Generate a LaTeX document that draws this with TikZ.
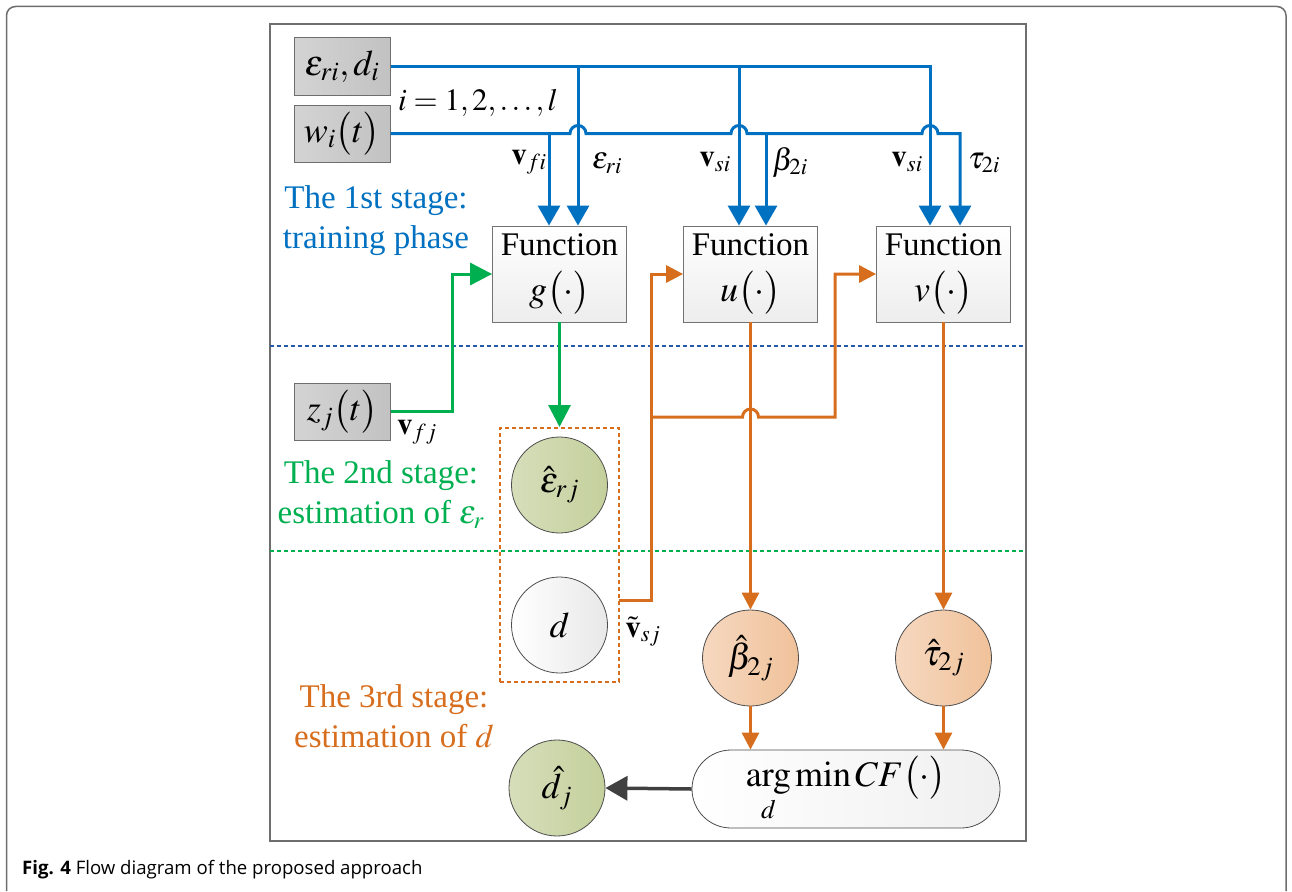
\documentclass[tikz,border=0pt]{standalone}
\usepackage{mathptmx}
\usepackage[no-math]{fontspec}
\setmainfont{Liberation Serif}
\newfontfamily\capfont{Open Sans}
\usetikzlibrary{arrows.meta}
\definecolor{cblue}{RGB}{0,112,192}
\definecolor{cgreen}{RGB}{0,176,80}
\definecolor{corange}{RGB}{215,110,30}
\definecolor{cframe}{RGB}{110,110,110}
\definecolor{cdark}{RGB}{64,64,64}
\definecolor{gfillA}{RGB}{214,222,186}
\definecolor{gfillB}{RGB}{196,208,156}
\definecolor{ofillA}{RGB}{246,216,192}
\definecolor{ofillB}{RGB}{240,194,154}
\definecolor{dashblue}{RGB}{40,90,170}
\newcommand{\bigfont}{\fontsize{33}{40}\selectfont}
\newcommand{\boxfont}{\fontsize{36}{42}\selectfont}
\newcommand{\labfont}{\fontsize{31}{37}\selectfont}
\begin{document}
\begin{tikzpicture}[x=1pt,y=-1pt,
  inbox/.style={draw=cframe,line width=1pt,left color=black!17,right color=black!24,
    minimum width=96pt,minimum height=57pt,inner sep=0pt,font=\boxfont},
  fnbox/.style={draw=black!55,line width=0.8pt,top color=white,bottom color=black!7,
    minimum width=134pt,minimum height=96pt,inner sep=0pt,align=center,font=\bigfont},
  circ/.style={circle,draw=black!70,line width=0.8pt,minimum size=96pt,inner sep=0pt,font=\boxfont},
  gcirc/.style={circ,left color=gfillA,right color=gfillB},
  ocirc/.style={circ,left color=ofillA,right color=ofillB},
  cfbox/.style={draw=black!70,line width=0.8pt,rounded corners=39pt,left color=white,right color=black!6,
    minimum width=308pt,minimum height=78pt,inner sep=0pt,font=\boxfont},
  stage/.style={align=center,font=\bigfont,inner sep=0pt},
  lab/.style={font=\labfont,inner sep=0pt},
  bl/.style={draw=cblue,line width=3pt},
  gr/.style={draw=cgreen,line width=3pt},
  orl/.style={draw=corange,line width=3pt},
  dk/.style={draw=cdark,line width=3.5pt},
  barr/.style={-{Triangle[width=22pt,length=20pt]},cblue},
  garr/.style={-{Triangle[width=22pt,length=22pt]},cgreen},
  oarr/.style={-{Triangle[width=17pt,length=17pt]},corange},
  darr/.style={-{Triangle[width=24pt,length=22pt]},cdark},
]
\useasboundingbox (0,0) rectangle (1292,891);
% frames
\draw[cframe,line width=1.5pt,rounded corners=9pt] (6.5,891) -- (6.5,6.5) -- (1286,6.5) -- (1286,891);
\node[draw=cframe,line width=1.5pt,minimum width=756pt,minimum height=817pt,inner sep=0pt] (frame) at (648,432.5) {};

% dashed stage separators
\coordinate (dl1) at (270,346); \coordinate (dr1) at (1026,346);
\coordinate (dl2) at (270,551); \coordinate (dr2) at (1026,551);
\draw[dashblue,line width=1.5pt,dash pattern=on 4pt off 3pt] (dl1) -- (dr1);
\draw[cgreen,line width=1.5pt,dash pattern=on 4pt off 3pt] (dl2) -- (dr2);

% input boxes
\node[inbox] (ed) at (342,66.5) {$\varepsilon_{ri},d_{i}$};
\node[inbox] (w) at (342,133.5) {$w_{i}\bigl(t\bigr)$};
\node[inbox] (z) at (342.5,411.5) {$z_{j}\bigl(t\bigr)$};

% function boxes
\node[fnbox] (g) at (559.5,274) {Function\\[6pt]{\boxfont$g\bigl(\cdot\bigr)$}};
\node[fnbox] (u) at (750.5,274) {Function\\[6pt]{\boxfont$u\bigl(\cdot\bigr)$}};
\node[fnbox] (v) at (943.5,274) {Function\\[6pt]{\boxfont$v\bigl(\cdot\bigr)$}};

% dashed group box and circles
\node[draw=corange,line width=2pt,dash pattern=on 4pt off 3pt,minimum width=119pt,minimum height=254pt,inner sep=0pt] (dbox) at (559.5,555) {};
\node[gcirc] (eh) at (559.5,485) {$\hat{\varepsilon}_{rj}$};
\node[circ,left color=white,right color=black!9] (dn) at (559.5,625) {$d$};
\node[ocirc] (bh) at (750.5,658) {$\hat{\beta}_{2j}$};
\node[ocirc] (th) at (943.5,658) {$\hat{\tau}_{2j}$};
\node[gcirc] (dh) at (557,788) {$\hat{d}_{j}$};
\node[cfbox] (cf) at (846,789) {\raisebox{-7pt}{$\mathop{\mathrm{arg}}\limits_{d}\min CF\bigl(\cdot\bigr)$}};

% blue connectors
\coordinate (ta) at (578,66.5); \coordinate (tb) at (739,66.5); \coordinate (tc) at (930,66.5);
\coordinate (sa) at (549,133.5); \coordinate (sb) at (766,133.5); \coordinate (sc) at (960,133.5);
\draw[bl,barr] (ed.east) -- (tc) -- (tc |- v.north);
\draw[bl,barr] (ta) -- (ta |- g.north);
\draw[bl,barr] (tb) -- (tb |- u.north);
\draw[bl,barr] (w.east) -- (570,133.5) arc[start angle=180,end angle=360,radius=8]
  -- (731,133.5) arc[start angle=180,end angle=360,radius=8]
  -- (922,133.5) arc[start angle=180,end angle=360,radius=8] -- (sc) -- (sc |- v.north);
\draw[bl,barr] (sa) -- (sa |- g.north);
\draw[bl,barr] (sb) -- (sb |- u.north);

% green connectors
\draw[gr,garr] (z.east) -| ([xshift=-40pt]g.west) -- (g.west);
\draw[gr,garr] (g.south) -- (dbox.north);

% orange connectors
\coordinate (oa) at (619,600); \coordinate (ob) at (651.5,417); \coordinate (oc) at (835,417);
\draw[orl,oarr] (oa) -| ([xshift=-32pt]u.west) -- (u.west);
\draw[orl,oarr] (ob) -- (742.5,417) arc[start angle=180,end angle=360,radius=8] -- (oc) |- (v.west);
\draw[orl,oarr] (u.south) -- (bh.north);
\draw[orl,oarr] (v.south) -- (th.north);
\draw[orl,oarr] (bh.south) -- (bh.south |- cf.north);
\draw[orl,oarr] (th.south) -- (th.south |- cf.north);

% dark connector
\draw[dk,darr] (cf.west) -- (dh.east);

% labels
\node[lab] (li) at (478,103) {$i=1,2,\ldots,l$};
\node[lab] (l1) at (529,162) {$\mathbf{v}_{fi}$};
\node[lab] (l2) at (607,163) {$\varepsilon_{ri}$};
\node[lab] (l3) at (715,162) {$\mathbf{v}_{si}$};
\node[lab] (l4) at (790,162) {$\beta_{2i}$};
\node[lab] (l5) at (907,162) {$\mathbf{v}_{si}$};
\node[lab] (l6) at (984,163) {$\tau_{2i}$};
\node[lab] (l7) at (417,432) {$\mathbf{v}_{fj}$};
\node[lab] (l8) at (643,632) {$\tilde{\mathbf{v}}_{sj}$};

% stage texts
\node[stage,text=cblue] (s1) at (376,221) {The 1st stage:\\training phase};
\node[stage,text=cgreen] (s2) at (381,495) {The 2nd stage:\\estimation of $\varepsilon_{r}$};
\node[stage,text=corange] (s3) at (394,716) {The 3rd stage:\\estimation of $d$};

% caption
\node[anchor=base west,inner sep=0pt,font=\capfont\fontsize{18.6}{23}\selectfont] (cap) at (22,874) {\textbf{Fig. 4} Flow diagram of the proposed approach};
\end{tikzpicture}
\end{document}
